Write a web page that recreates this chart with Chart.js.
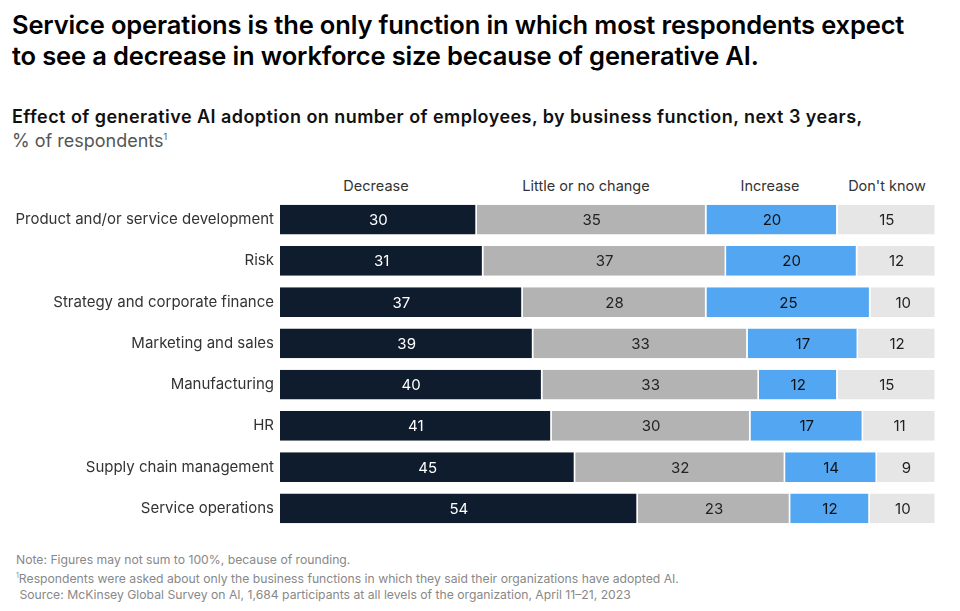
<!DOCTYPE html>
<html>
<head>
<meta charset="utf-8">
<script src="https://cdn.jsdelivr.net/npm/chart.js@4.4.1/dist/chart.umd.min.js"></script>
<style>
  body { margin: 0; width: 960px; height: 611px; background: #fff; font-family: Inter, "Noto Sans", sans-serif; position: relative; overflow: hidden; }
  .title { position: absolute; left: 12px; top: 9px; font-size: 25.5px; font-weight: 600; line-height: 31px; color: #000; letter-spacing: -0.15px; }
  .sub { position: absolute; left: 12px; top: 106px; font-size: 18px; font-weight: 600; color: #111; letter-spacing: 0.45px; }
  .unit { position: absolute; left: 12px; top: 130px; font-size: 18px; color: #555; }
  .unit sup { font-size: 9px; }
  .col { position: absolute; top: 177px; font-size: 14.5px; color: #333; transform: translateX(-50%); white-space: nowrap; }
  .notes { position: absolute; left: 16px; top: 552px; font-size: 12.2px; color: #888; line-height: 16px; }
  .notes sup { font-size: 7px; }
  #wrap { position: absolute; left: 0; top: 199px; width: 960px; height: 330px; }
</style>
</head>
<body>
<div class="title">Service operations is the only function in which most respondents expect<br>to see a decrease in workforce size because of generative AI.</div>
<div class="sub">Effect of generative AI adoption on number of employees, by business function, next 3 years,</div>
<div class="unit">% of respondents<sup>1</sup></div>
<div class="col" style="left:376px">Decrease</div>
<div class="col" style="left:586px">Little or no change</div>
<div class="col" style="left:770px">Increase</div>
<div class="col" style="left:887px">Don't know</div>
<div id="wrap"><canvas id="c"></canvas></div>
<div class="notes">Note: Figures may not sum to 100%, because of rounding.<br><sup>1</sup>Respondents were asked about only the business functions in which they said their organizations have adopted AI.<br>&nbsp;Source: McKinsey Global Survey on AI, 1,684 participants at all levels of the organization, April 11–21, 2023</div>
<script>
const categories = ['Product and/or service development', 'Risk', 'Strategy and corporate finance', 'Marketing and sales', 'Manufacturing', 'HR', 'Supply chain management', 'Service operations'];
const decrease = [30, 31, 37, 39, 40, 41, 45, 54];
const noChange = [35, 37, 28, 33, 33, 30, 32, 23];
const increase = [20, 20, 25, 17, 12, 17, 14, 12];
const dontKnow = [15, 12, 10, 12, 15, 11, 9, 10];
const seriesNames = ['Decrease', 'Little or no change', 'Increase', "Don't know"];
const colors = ['#0e1c2e', '#b3b3b3', '#52a6f2', '#e6e6e6'];
const textColors = ['#fff', '#222', '#111', '#222'];

const raw = [decrease, noChange, increase, dontKnow];
// bars fill the full width, so scale each row to its own total
const totals = categories.map((_, i) => raw.reduce((s, arr) => s + arr[i], 0));

const labelPlugin = {
  id: 'segLabels',
  afterDatasetsDraw(chart) {
    const ctx = chart.ctx;
    ctx.save();
    ctx.font = '15px Inter, "Noto Sans", sans-serif';
    ctx.textAlign = 'center';
    ctx.textBaseline = 'middle';
    chart.data.datasets.forEach((ds, di) => {
      chart.getDatasetMeta(di).data.forEach((bar, i) => {
        const x = (bar.x + bar.base) / 2;
        ctx.fillStyle = textColors[di];
        ctx.fillText(String(ds.raw[i]), x, bar.y + 1);
      });
    });
    ctx.restore();
  }
};

new Chart(document.getElementById('c'), {
  type: 'bar',
  data: {
    labels: categories,
    datasets: raw.map((arr, di) => ({
      label: seriesNames[di],
      raw: arr,
      data: arr.map((v, i) => v / totals[i] * 100),
      backgroundColor: colors[di],
      borderColor: '#fff',
      borderWidth: { left: 0, right: 1.5, top: 0, bottom: 0 },
      borderSkipped: false,
      barPercentage: 0.72,
      categoryPercentage: 1
    }))
  },
  options: {
    indexAxis: 'y',
    responsive: true,
    maintainAspectRatio: false,
    animation: false,
    layout: { padding: { left: 0, right: 24, top: 0, bottom: 0 } },
    scales: {
      x: { stacked: true, min: 0, max: 100, display: false },
      y: {
        stacked: true,
        grid: { display: false, drawTicks: false },
        border: { display: false },
        ticks: { color: '#333', font: { size: 15, family: 'Inter, "Noto Sans", sans-serif' }, padding: 6 },
        afterFit(scale) {
          scale.width = 280;
          scale.paddingTop = 0;
          scale.paddingBottom = 0;
        }
      }
    },
    plugins: { legend: { display: false }, tooltip: { enabled: false } }
  },
  plugins: [labelPlugin]
});
</script>
</body>
</html>
